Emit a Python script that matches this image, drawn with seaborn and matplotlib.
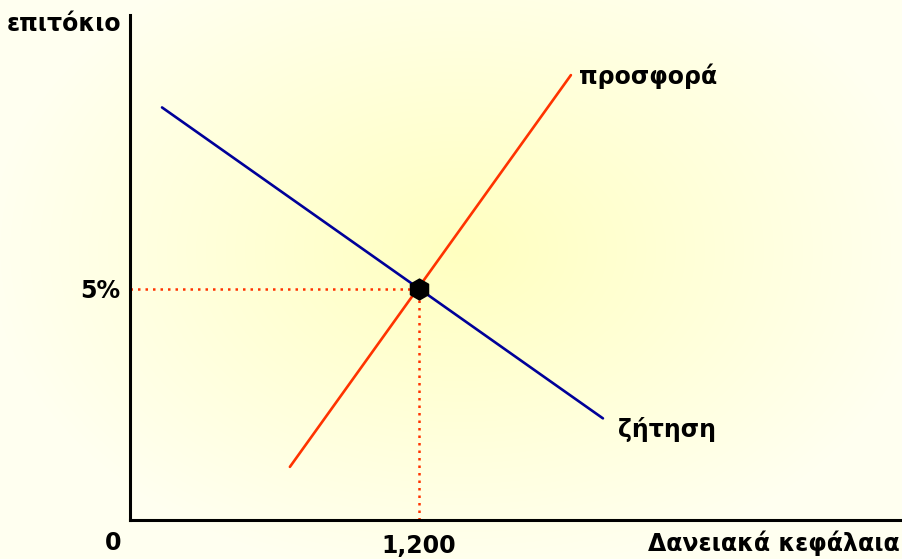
import numpy as np
import pandas as pd
import seaborn as sns
import matplotlib.pyplot as plt

# supply / demand for loanable funds
demand_x = [133, 1964]
demand_y = [8.93, 2.2]
supply_x = [664, 1831]
supply_y = [1.15, 9.63]
eq_x = 1200
eq_y = 5
x_ticks = [1200]
x_labels = ['1,200']
y_ticks = [5]
y_labels = ['5%']

sns.set_style('white')
plt.rcParams['font.family'] = ['DejaVu Sans']
plt.rcParams['font.weight'] = 'bold'
plt.rcParams['text.color'] = 'black'
plt.rcParams['xtick.color'] = 'black'
plt.rcParams['ytick.color'] = 'black'

W, H = 902, 559
fig = plt.figure(figsize=(W / 100, H / 100), dpi=100)

# soft radial yellow background
bg = fig.add_axes([0, 0, 1, 1], zorder=-1)
yy, xx = np.mgrid[0:H, 0:W]
r = np.sqrt(((xx - 460) / 470.0) ** 2 + ((yy - 250) / 330.0) ** 2)
t = np.clip(r, 0, 1)[..., None]
inner = np.array([255, 255, 192]) / 255
outer = np.array([255, 255, 240]) / 255
img = inner * (1 - t) + outer * t
bg.imshow(img, aspect='auto', extent=[0, 1, 0, 1], origin='upper')
bg.axis('off')

ax = fig.add_axes([130 / W, (H - 520) / H, (W - 130) / W, (520 - 15) / H])
ax.set_facecolor('none')
ax.set_xlim(0, 772 / 0.2408)
ax.set_ylim(0, 505 / 46.2)

demand = pd.DataFrame({'q': demand_x, 'r': demand_y})
supply = pd.DataFrame({'q': supply_x, 'r': supply_y})
sns.lineplot(data=demand, x='q', y='r', color='#000099', linewidth=1.9, ax=ax)
sns.lineplot(data=supply, x='q', y='r', color='#ff3300', linewidth=1.9, ax=ax)

ax.plot([0, eq_x], [eq_y, eq_y], color='#ff3300', linewidth=1.8, linestyle=(0, (1, 2)))
ax.plot([eq_x, eq_x], [0, eq_y], color='#ff3300', linewidth=1.8, linestyle=(0, (1, 2)))
sns.scatterplot(x=[eq_x], y=[eq_y], marker='h', s=220, color='black',
                edgecolor='black', zorder=5, ax=ax)

ax.set_xticks(x_ticks, x_labels)
ax.set_yticks(y_ticks, y_labels)
ax.tick_params(axis='x', length=0, pad=10, labelsize=17, labelcolor='black')
ax.tick_params(axis='y', length=0, pad=7, labelsize=17, labelcolor='black')
for lab in ax.get_xticklabels() + ax.get_yticklabels():
    lab.set_fontweight('bold')
ax.set_xlabel('')
ax.set_ylabel('')
sns.despine(ax=ax)
for s in ['left', 'bottom']:
    ax.spines[s].set_color('black')
    ax.spines[s].set_linewidth(2.2)

def px(x, y):
    return x / W, 1 - y / H

fs = 17
kw = dict(fontsize=fs, fontweight='bold', color='black')
fig.text(*px(113, 543), '0', ha='center', va='center', **kw)
fig.text(*px(900, 543), 'Δανειακά κεφάλαια', ha='right', va='center', **kw)
fig.text(*px(121, 24), 'επιτόκιο', ha='right', va='center', **kw)
fig.text(*px(579, 76), 'προσφορά', ha='left', va='center', **kw)
fig.text(*px(618, 430), 'ζήτηση', ha='left', va='center', **kw)

fig.savefig('out.png', dpi=100)
